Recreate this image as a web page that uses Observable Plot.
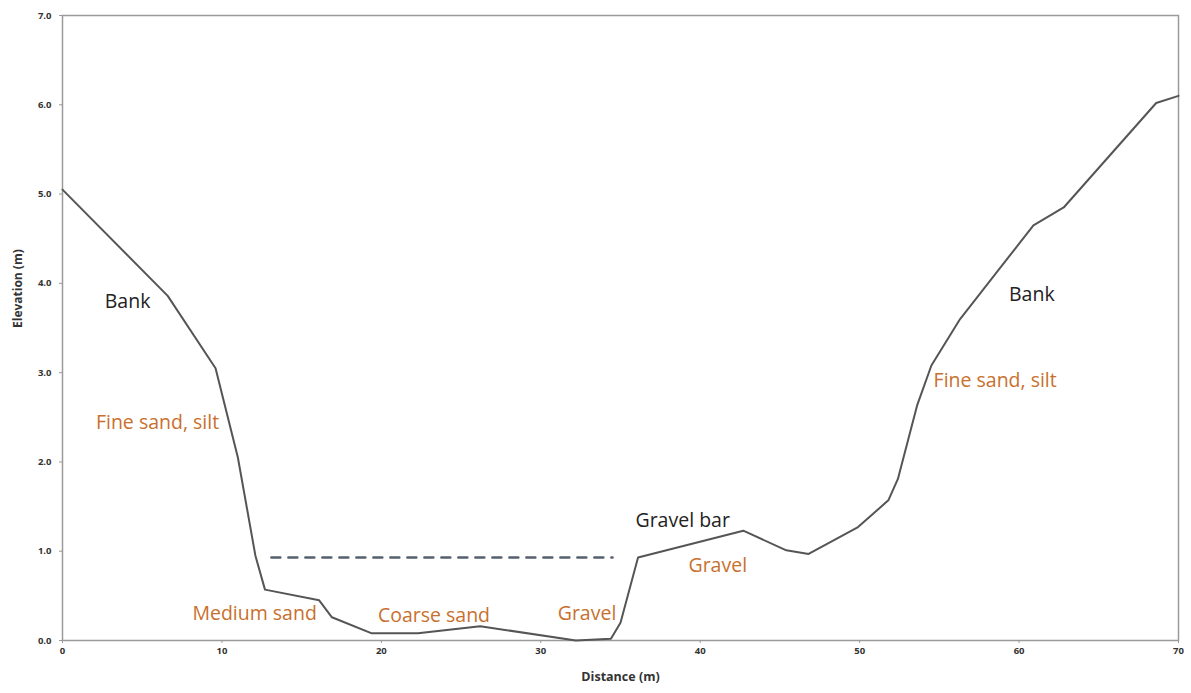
<!DOCTYPE html>
<html><head><meta charset="utf-8">
<script src="https://cdn.jsdelivr.net/npm/d3@7"></script>
<script src="https://cdn.jsdelivr.net/npm/@observablehq/plot@0.6"></script>
<style>body{margin:0;background:#fff;} svg{display:block;}</style>
</head><body><div id="chart"></div>
<script>
// Cross-section profile
const distance  = [0, 6.6, 9.6, 11.0, 12.1, 12.7, 16.1, 16.9, 19.4, 22.3, 26.2, 32.2, 34.4, 35.0, 36.1, 42.7, 45.4, 46.8, 49.9, 51.8, 52.4, 53.6, 54.5, 56.3, 60.9, 62.8, 68.6, 70.0];
const elevation = [5.05, 3.86, 3.05, 2.05, 0.95, 0.57, 0.45, 0.26, 0.08, 0.08, 0.16, 0.0, 0.02, 0.2, 0.93, 1.23, 1.01, 0.97, 1.27, 1.57, 1.81, 2.63, 3.08, 3.6, 4.65, 4.85, 6.02, 6.1];

// Water level (dashed)
const waterX = [13.1, 34.5];
const waterY = [0.93, 0.93];

// Annotations
const labelText = ["Bank", "Fine sand, silt", "Medium sand", "Coarse sand", "Gravel", "Gravel bar", "Gravel", "Bank", "Fine sand, silt"];
const labelX    = [4.08, 5.96, 12.05, 23.3, 32.9, 38.9, 41.1, 60.8, 58.5];
const labelY    = [3.79, 2.44, 0.30, 0.28, 0.30, 1.34, 0.84, 3.87, 2.91];
const labelKind = ["feature", "material", "material", "material", "material", "feature", "material", "feature", "material"];

// Axis ticks
const xTicks = [0, 10, 20, 30, 40, 50, 60, 70];
const yTicks = [0, 1, 2, 3, 4, 5, 6, 7];

const profile = distance.map((d, i) => ({d, e: elevation[i]}));
const water = waterX.map((d, i) => ({d, e: waterY[i]}));
const labels = labelText.map((t, i) => ({t, x: labelX[i], y: labelY[i], k: labelKind[i]}));

const chart = Plot.plot({
  width: 1191,
  height: 693,
  marginLeft: 62,
  marginRight: 13,
  marginTop: 15,
  marginBottom: 53,
  style: {fontFamily: "'Open Sans', sans-serif", background: "#fff"},
  x: {domain: [0, 70]},
  y: {domain: [0, 7]},
  marks: [
    Plot.frame({stroke: "#9a9a9a", strokeWidth: 1.5}),
    Plot.axisX({ticks: xTicks, tickSize: 3, tickPadding: 4, stroke: "#9a9a9a", fill: "#333", fontSize: 9.5, fontWeight: "bold", label: null}),
    Plot.axisY({ticks: yTicks, tickSize: 3, tickPadding: 8, tickFormat: d3.format(".1f"), stroke: "#9a9a9a", fill: "#333", fontSize: 9.5, fontWeight: "bold", label: null}),
    Plot.text(["Distance (m)"], {frameAnchor: "bottom", dy: 40, fontSize: 12.5, fontWeight: "bold", fill: "#333"}),
    Plot.text(["Elevation (m)"], {frameAnchor: "left", dx: -44, rotate: -90, fontSize: 12, fontWeight: "bold", fill: "#333"}),
    Plot.line(water, {x: "d", y: "e", stroke: "#56606c", strokeWidth: 2.5, strokeDasharray: "9,8"}),
    Plot.line(profile, {x: "d", y: "e", stroke: "#555", strokeWidth: 2}),
    Plot.text(labels, {x: "x", y: "y", text: "t", fontSize: 19.5, fill: d => d.k === "feature" ? "#222" : "#c8702e"})
  ]
});
document.getElementById("chart").append(chart);
</script>
</body></html>
